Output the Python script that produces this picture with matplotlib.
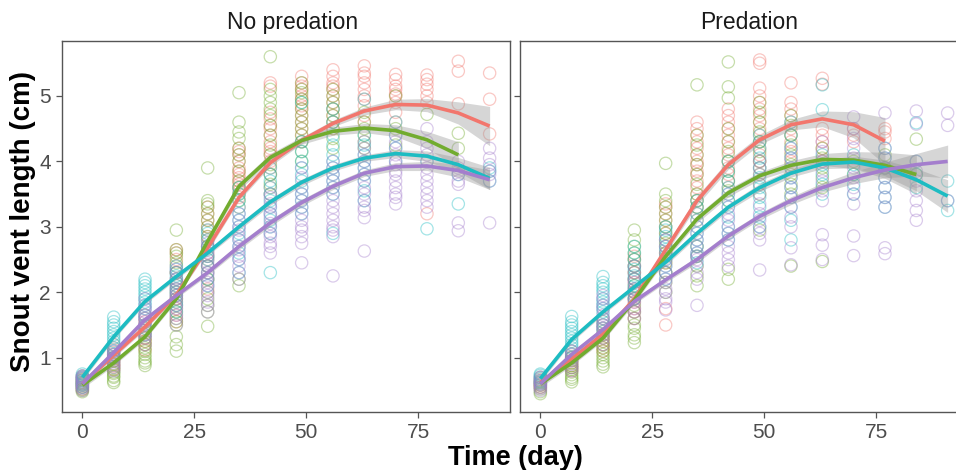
import matplotlib
matplotlib.use('Agg')
import matplotlib.pyplot as plt

plt.rcParams['font.family'] = ['Liberation Sans', 'DejaVu Sans']

# ============================== DATA ============================== #

TIMES = [0, 7, 14, 21, 28, 35, 42, 49, 56, 63, 70, 77, 84, 91]
PANELS = ['No predation', 'Predation']
COLORS = ['#F2766D', '#72AC2F', '#1DBCC2', '#A47ECD']  # red, green, cyan, purple

# --- no predation, raw points (one list per time) ---
NP_RED = [[0.52, 0.55, 0.57, 0.6, 0.62, 0.64, 0.66, 0.68, 0.7, 0.72],
          [0.82, 0.87, 0.9, 0.95, 0.98, 1.0, 1.05, 1.08, 1.12, 1.15, 1.2],
          [1.12, 1.2, 1.25, 1.3, 1.35, 1.42, 1.45, 1.5, 1.55, 1.6, 1.65],
          [1.55, 1.65, 1.75, 1.85, 1.9, 1.95, 2.05, 2.1, 2.2, 2.3, 2.4, 2.5, 2.6, 2.65],
          [2.05, 2.2, 2.3, 2.4, 2.5, 2.6, 2.7, 2.8, 2.85, 2.95, 3.0, 3.1, 3.2, 3.3],
          [3.3, 3.45, 3.55, 3.6, 3.65, 3.7, 3.75, 3.8, 3.85, 3.9, 4.0, 4.1, 4.15, 4.2],
          [3.6, 3.8, 3.9, 4.0, 4.1, 4.15, 4.2, 4.3, 4.4, 4.5, 4.55, 4.65, 4.75, 5.15, 5.2],
          [4.3, 4.4, 4.5, 4.6, 4.7, 4.8, 4.85, 4.95, 5.0, 5.1, 5.15, 5.2, 5.3],
          [4.5, 4.6, 4.7, 4.8, 4.9, 5.0, 5.1, 5.15, 5.2, 5.3, 5.4],
          [4.6, 4.7, 4.85, 4.95, 5.0, 5.1, 5.2, 5.3, 5.35, 5.46],
          [4.6, 4.75, 4.9, 5.0, 5.03, 5.1, 5.15, 5.25, 5.33],
          [3.2, 4.9, 5.0, 5.1, 5.18, 5.25, 5.32],
          [4.88, 5.38, 5.53],
          [4.42, 4.95, 5.35]]
NP_GRN = [[0.48, 0.5, 0.52, 0.55, 0.58, 0.6, 0.62, 0.66],
          [0.62, 0.65, 0.7, 0.72, 0.76, 0.78, 0.82, 0.85, 0.9, 0.95, 1.0],
          [0.88, 0.92, 0.95, 1.0, 1.05, 1.1, 1.15, 1.2, 1.25, 1.3, 1.38],
          [1.1, 1.2, 1.32, 1.5, 1.55, 1.6, 1.7, 1.8, 1.9, 2.0, 2.15, 2.3, 2.45, 2.55, 2.6, 2.65, 2.95],
          [1.48, 1.7, 1.8, 1.9, 2.0, 2.2, 2.4, 2.55, 2.7, 2.85, 3.0, 3.1, 3.2, 3.3, 3.35, 3.4, 3.9],
          [2.1, 2.2, 3.4, 3.5, 3.6, 3.7, 3.85, 4.0, 4.1, 4.2, 4.35, 4.45, 4.6, 5.05],
          [3.5, 3.65, 3.8, 3.95, 4.1, 4.25, 4.4, 4.55, 4.7, 4.8, 4.9, 5.0, 5.1, 5.6],
          [4.0, 4.15, 4.3, 4.4, 4.5, 4.6, 4.7, 4.8, 4.9, 4.95, 5.05, 5.1, 5.2],
          [4.2, 4.35, 4.5, 4.6, 4.7, 4.8, 4.9, 5.0, 5.1],
          [4.2, 4.3, 4.4, 4.5, 4.6, 4.75],
          [4.25, 4.5, 5.0],
          [4.72],
          [4.2, 4.43],
          []]
NP_CYN = [[0.55, 0.58, 0.6, 0.63, 0.65, 0.68, 0.7, 0.72, 0.75],
          [1.0, 1.05, 1.1, 1.15, 1.2, 1.25, 1.3, 1.35, 1.4, 1.45, 1.5, 1.55, 1.62],
          [1.35, 1.45, 1.5, 1.6, 1.65, 1.75, 1.8, 1.85, 1.9, 1.95, 2.0, 2.05, 2.1, 2.15, 2.2],
          [1.7, 1.8, 1.85, 1.95, 2.0, 2.05, 2.1, 2.15, 2.2, 2.25, 2.3, 2.35, 2.4],
          [2.1, 2.2, 2.3, 2.4, 2.5, 2.55, 2.65, 2.7, 2.8, 2.9, 2.95],
          [2.3, 2.5, 2.6, 2.7, 2.8, 2.9, 3.0, 3.1, 3.2, 3.3, 3.4, 3.5, 3.6],
          [2.3, 2.9, 3.0, 3.1, 3.2, 3.3, 3.4, 3.5, 3.6, 3.7, 3.8, 3.9],
          [3.2, 3.3, 3.4, 3.5, 3.6, 3.7, 3.8, 3.9, 4.0, 4.15, 4.3, 4.9],
          [2.9, 3.5, 3.6, 3.7, 3.8, 3.9, 4.0, 4.1, 4.25, 4.4, 4.6, 4.8],
          [3.4, 3.55, 3.7, 3.8, 3.9, 4.0, 4.1, 4.25, 4.4, 4.95],
          [4.0, 4.2, 4.4, 4.6],
          [2.97, 4.0],
          [3.35, 3.8],
          [3.7, 3.85, 3.9]]
NP_PUR = [[0.5, 0.53, 0.55, 0.58, 0.6, 0.62, 0.65, 0.68, 0.7, 0.72],
          [0.8, 0.85, 0.88, 0.92, 0.95, 1.0, 1.02, 1.05, 1.1],
          [1.2, 1.3, 1.35, 1.4, 1.5, 1.55, 1.6, 1.65, 1.7, 1.75, 1.8, 1.9],
          [1.5, 1.6, 1.65, 1.75, 1.8, 1.9, 1.95, 2.0, 2.05, 2.15, 2.2, 2.3, 2.35],
          [1.7, 1.8, 1.85, 1.95, 2.0, 2.1, 2.15, 2.25, 2.3, 2.4, 2.45, 2.55, 2.6, 2.7, 2.75],
          [2.2, 2.3, 2.4, 2.5, 2.55, 2.65, 2.7, 2.8, 2.85, 2.95, 3.0, 3.1, 3.2],
          [2.6, 2.7, 2.75, 2.85, 2.9, 3.0, 3.05, 3.15, 3.2, 3.3, 3.35, 3.45, 3.5],
          [2.45, 2.75, 2.85, 2.95, 3.0, 3.1, 3.2, 3.3, 3.4, 3.5, 3.6, 3.75, 3.9],
          [2.25, 2.85, 2.95, 3.0, 3.1, 3.2, 3.3, 3.4, 3.5, 3.6, 3.7, 3.8, 3.9, 4.0],
          [2.63, 3.14, 3.25, 3.3, 3.4, 3.5, 3.6, 3.7, 3.8, 3.9, 4.0, 4.1, 4.2, 4.3],
          [3.35, 3.45, 3.5, 3.6, 3.7, 3.8, 3.85, 3.95, 4.0, 4.1, 4.2, 4.3, 4.4],
          [3.3, 3.4, 3.5, 3.6, 3.7, 3.8, 3.9, 4.0, 4.1, 4.2, 4.3, 4.5],
          [2.94, 3.06, 3.65, 3.7, 3.8, 3.85, 3.9, 4.0],
          [3.06, 3.7, 3.8, 3.85, 3.95, 4.05, 4.2]]

# --- predation, raw points ---
P_RED = [[0.55, 0.58, 0.6, 0.63, 0.65, 0.67, 0.7],
         [0.8, 0.85, 0.88, 0.92, 0.95, 1.0, 1.02, 1.06, 1.1],
         [1.1, 1.15, 1.2, 1.25, 1.3, 1.35, 1.4, 1.45, 1.5, 1.55, 1.6],
         [1.6, 1.7, 1.75, 1.85, 1.9, 2.0, 2.05, 2.15, 2.2, 2.3, 2.4, 2.5, 2.55],
         [1.5, 1.75, 2.3, 2.45, 2.6, 2.7, 2.8, 2.9, 3.0, 3.1, 3.2, 3.3, 3.35],
         [3.1, 3.2, 3.3, 3.4, 3.5, 3.6, 3.7, 3.8, 3.85, 3.95, 4.0, 4.1, 4.2, 4.3, 4.4, 4.5, 4.6],
         [3.6, 3.7, 3.8, 3.9, 4.0, 4.1, 4.2, 4.3, 4.4, 4.5, 4.6, 4.7, 4.8],
         [4.0, 4.1, 4.2, 4.3, 4.4, 4.5, 4.6, 4.7, 4.8, 4.9, 5.0, 5.12, 5.5, 5.55],
         [4.0, 4.15, 4.3, 4.4, 4.5, 4.6, 4.7, 4.8, 4.9, 5.2],
         [4.0, 4.2, 4.3, 4.4, 4.5, 5.18, 5.27],
         [4.3, 4.4, 4.5],
         [4.35, 4.45, 4.5],
         [],
         []]
P_GRN = [[0.45, 0.48, 0.52, 0.55, 0.58, 0.62],
         [0.63, 0.67, 0.7, 0.74, 0.78, 0.82, 0.85, 0.88, 0.92, 0.96, 1.0],
         [0.86, 0.9, 0.95, 1.0, 1.05, 1.1, 1.15, 1.2, 1.25, 1.3, 1.35],
         [1.23, 1.3, 1.35, 1.45, 1.5, 1.6, 1.7, 1.8, 1.9, 2.0, 2.1, 2.2, 2.3, 2.4, 2.5, 2.6, 2.7, 2.8, 2.95],
         [2.0, 2.15, 2.3, 2.45, 2.6, 2.75, 2.9, 3.0, 3.1, 3.2, 3.3, 3.4, 3.5, 3.97],
         [2.1, 2.25, 2.4, 2.55, 2.7, 3.3, 3.4, 3.5, 3.65, 3.8, 3.95, 4.1, 4.25, 4.4, 5.17],
         [2.2, 2.35, 3.4, 3.55, 3.7, 3.85, 4.0, 4.15, 4.3, 4.5, 4.97, 5.14, 5.52],
         [2.95, 3.5, 3.65, 3.8, 3.9, 4.0, 4.15, 4.3, 4.45, 4.6, 4.75, 4.9],
         [2.4, 3.5, 3.65, 3.8, 3.95, 4.1, 4.25, 4.4, 4.55, 4.7],
         [2.47, 3.6, 3.75, 3.9, 4.05, 4.2],
         [3.8, 4.0],
         [3.9, 4.1],
         [3.8, 4.34],
         []]
P_CYN = [[0.6, 0.63, 0.65, 0.68, 0.7, 0.73, 0.75],
         [1.0, 1.05, 1.1, 1.15, 1.2, 1.25, 1.3, 1.35, 1.4, 1.45, 1.5, 1.55, 1.63],
         [1.4, 1.45, 1.5, 1.55, 1.6, 1.7, 1.75, 1.8, 1.85, 1.9, 2.0, 2.05, 2.1, 2.15, 2.24],
         [1.9, 1.95, 2.05, 2.1, 2.2, 2.25, 2.35, 2.4, 2.5, 2.6, 2.7],
         [2.2, 2.3, 2.4, 2.5, 2.55, 2.65, 2.7, 2.8, 2.85, 2.95, 3.0],
         [2.45, 2.55, 2.6, 2.7, 2.8, 2.9, 3.0, 3.1, 3.2, 3.3, 3.4],
         [2.8, 2.9, 3.0, 3.15, 3.3, 3.4, 3.5, 3.6, 3.7, 3.85, 4.0],
         [3.0, 3.15, 3.3, 3.45, 3.6, 3.75, 3.9, 4.05, 4.2, 4.3, 4.4],
         [2.8, 3.1, 3.3, 3.45, 3.6, 3.75, 3.9, 4.05, 4.2, 4.4, 4.6],
         [3.5, 3.65, 3.8, 3.95, 4.1, 4.79, 5.17],
         [3.5, 3.65, 3.8, 3.95, 4.1],
         [3.3, 3.45, 3.6, 3.75, 3.9, 4.05, 4.2],
         [3.6, 3.8, 4.0, 4.59],
         [3.25, 3.4, 3.7]]
P_PUR = [[0.5, 0.53, 0.55, 0.58, 0.6, 0.62, 0.65, 0.7],
         [0.8, 0.85, 0.9, 0.95, 1.0, 1.05, 1.1],
         [1.2, 1.3, 1.35, 1.45, 1.5, 1.6, 1.65, 1.75, 1.8, 1.9, 1.95],
         [1.6, 1.7, 1.75, 1.85, 1.9, 2.0, 2.05, 2.15, 2.2, 2.3, 2.4],
         [1.73, 1.85, 1.9, 2.0, 2.05, 2.15, 2.2, 2.3, 2.4, 2.5, 2.6, 2.7, 2.8],
         [1.8, 2.2, 2.3, 2.4, 2.5, 2.55, 2.6, 2.7, 2.8, 2.9, 3.0],
         [2.4, 2.5, 2.6, 2.7, 2.8, 2.9, 3.0, 3.1, 3.2, 3.3, 3.5],
         [2.34, 2.8, 2.9, 3.0, 3.1, 3.2, 3.35, 3.5, 3.65, 3.8, 3.9, 4.0],
         [2.42, 2.68, 3.0, 3.15, 3.3, 3.45, 3.6, 3.75, 3.9, 4.05, 4.2],
         [2.5, 2.72, 2.88, 3.4, 3.55, 3.7, 3.85, 4.0, 4.15, 4.3],
         [2.56, 2.86, 3.35, 3.5, 3.6, 3.75, 3.9, 4.05, 4.2, 4.35, 4.5, 4.68],
         [2.59, 2.68, 3.3, 3.45, 3.6, 3.75, 3.9, 4.05, 4.2, 4.74],
         [3.1, 3.25, 3.4, 3.55, 3.7, 3.85, 4.0, 4.57, 4.77],
         [3.4, 4.55, 4.74]]

# --- smoothed fits (read at TIMES) and their half band widths ---
NP_RED_FIT = [0.60, 1.04, 1.47, 1.96, 2.68, 3.45, 3.98, 4.32, 4.58, 4.77, 4.87, 4.86, 4.74, 4.54]
NP_GRN_FIT = [0.58, 0.92, 1.32, 1.90, 2.78, 3.62, 4.06, 4.32, 4.46, 4.51, 4.47, 4.33, 4.10]
NP_CYN_FIT = [0.70, 1.32, 1.86, 2.24, 2.60, 3.00, 3.38, 3.68, 3.90, 4.05, 4.12, 4.08, 3.95, 3.74]
NP_PUR_FIT = [0.60, 1.08, 1.58, 1.95, 2.30, 2.70, 3.06, 3.37, 3.62, 3.82, 3.92, 3.93, 3.86, 3.72]
P_RED_FIT = [0.62, 0.98, 1.36, 1.90, 2.65, 3.40, 3.95, 4.33, 4.56, 4.65, 4.56, 4.31]
P_GRN_FIT = [0.60, 0.92, 1.30, 1.88, 2.55, 3.12, 3.52, 3.78, 3.94, 4.03, 4.02, 3.94, 3.80]
P_CYN_FIT = [0.68, 1.28, 1.70, 2.08, 2.46, 2.90, 3.30, 3.60, 3.82, 3.96, 3.99, 3.90, 3.72, 3.47]
P_PUR_FIT = [0.60, 1.05, 1.43, 1.86, 2.19, 2.50, 2.86, 3.16, 3.40, 3.60, 3.75, 3.87, 3.95, 4.00]

NP_RED_SE = [0.05, 0.04, 0.04, 0.04, 0.05, 0.05, 0.05, 0.05, 0.05, 0.06, 0.08, 0.10, 0.17, 0.30]
NP_GRN_SE = [0.05, 0.04, 0.04, 0.04, 0.05, 0.06, 0.06, 0.06, 0.06, 0.07, 0.09, 0.13, 0.20]
NP_CYN_SE = [0.05, 0.04, 0.04, 0.04, 0.04, 0.05, 0.05, 0.05, 0.05, 0.05, 0.06, 0.08, 0.11, 0.17]
NP_PUR_SE = [0.05, 0.04, 0.04, 0.04, 0.04, 0.05, 0.05, 0.05, 0.05, 0.05, 0.06, 0.07, 0.10, 0.15]
P_RED_SE = [0.05, 0.04, 0.04, 0.05, 0.06, 0.07, 0.07, 0.07, 0.08, 0.12, 0.20, 0.36]
P_GRN_SE = [0.05, 0.04, 0.04, 0.05, 0.05, 0.06, 0.06, 0.06, 0.07, 0.09, 0.13, 0.20, 0.30]
P_CYN_SE = [0.05, 0.04, 0.04, 0.04, 0.05, 0.05, 0.05, 0.06, 0.06, 0.07, 0.09, 0.12, 0.17, 0.25]
P_PUR_SE = [0.05, 0.04, 0.04, 0.04, 0.04, 0.05, 0.05, 0.05, 0.06, 0.07, 0.09, 0.12, 0.17, 0.25]

X_TICKS = [0, 25, 50, 75]
Y_TICKS = [1, 2, 3, 4, 5]

# ============================== PLOT ============================== #

W, H = 956, 470
fig = plt.figure(figsize=(W / 100, H / 100), dpi=100)

# axes boxes in pixels (left, top, right, bottom); right panel is cut off by the figure edge
boxes = [(62, 41, 510, 412), (520, 41, 968, 412)]
title_x = [(293 - 62) / 448, (749 - 520) / 448]  # strip text centre, in axes fraction

panel_points = [[NP_RED, NP_GRN, NP_CYN, NP_PUR], [P_RED, P_GRN, P_CYN, P_PUR]]
panel_fits = [[NP_RED_FIT, NP_GRN_FIT, NP_CYN_FIT, NP_PUR_FIT],
              [P_RED_FIT, P_GRN_FIT, P_CYN_FIT, P_PUR_FIT]]
panel_se = [[NP_RED_SE, NP_GRN_SE, NP_CYN_SE, NP_PUR_SE],
            [P_RED_SE, P_GRN_SE, P_CYN_SE, P_PUR_SE]]

for p, title in enumerate(PANELS):
    l, t, r, b = boxes[p]
    ax = fig.add_axes([l / W, 1 - b / H, (r - l) / W, (b - t) / H])

    # raw points
    for g in range(4):
        xs, ys = [], []
        for ti, vals in zip(TIMES, panel_points[p][g]):
            xs += [ti] * len(vals)
            ys += vals
        ax.scatter(xs, ys, s=78, facecolors='none', edgecolors=COLORS[g],
                   linewidths=0.9, alpha=0.4, zorder=2)

    # confidence bands
    for g in range(4):
        fit = panel_fits[p][g]
        se = panel_se[p][g]
        tt = TIMES[:len(fit)]
        lo = [f - s for f, s in zip(fit, se)]
        hi = [f + s for f, s in zip(fit, se)]
        ax.fill_between(tt, lo, hi, color='#999999', alpha=0.4, linewidth=0, zorder=3)

    # fitted lines
    for g in range(4):
        fit = panel_fits[p][g]
        ax.plot(TIMES[:len(fit)], fit, color=COLORS[g], linewidth=2.6,
                solid_capstyle='butt', solid_joinstyle='round', zorder=4)

    ax.set_xlim(-4.55, 95.55)
    ax.set_ylim(0.17, 5.84)
    ax.set_xticks(X_TICKS)
    ax.set_yticks(Y_TICKS)
    if p == 1:
        ax.set_yticklabels([])
        ax.tick_params(axis='y', length=0)
    ax.tick_params(labelsize=15, labelcolor='#4D4D4D', color='#555555',
                   length=4, width=0.9, pad=4)
    for sp in ax.spines.values():
        sp.set_color('#555555')
        sp.set_linewidth(1.0)
    ax.text(title_x[p], 1 + 12 / 371, title, transform=ax.transAxes,
            fontsize=16.5, color='#1A1A1A', ha='center', va='baseline')

fig.text(515 / W, 5 / H, 'Time (day)', fontsize=19.5, fontweight='bold',
         ha='center', va='baseline')
fig.text(23 / W, 1 - 222 / H, 'Snout vent length (cm)', fontsize=20,
         fontweight='bold', rotation=90, ha='center', va='center')

fig.savefig('out.png', dpi=100)
